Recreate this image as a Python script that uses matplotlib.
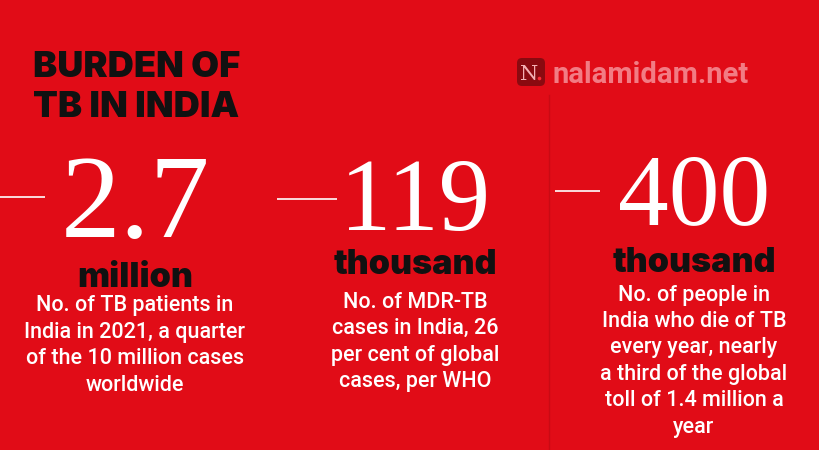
import matplotlib
matplotlib.use("Agg")
import matplotlib.pyplot as plt
from matplotlib.patches import FancyBboxPatch, Circle

# figures shown on the card
numbers = ["2.7", "119", "400"]
units = ["million", "thousand", "thousand"]
descriptions = [
    ["No. of TB patients in", "India in 2021, a quarter", "of the 10 million cases", "worldwide"],
    ["No. of MDR-TB", "cases in India, 26", "per cent of global", "cases, per WHO"],
    ["No. of people in", "India who die of TB", "every year, nearly", "a third of the global",
     "toll of 1.4 million a", "year"],
]
title_lines = ["BURDEN OF", "TB IN INDIA"]
site = "nalamidam.net"

bg = "#E10C17"

fig = plt.figure(figsize=(8.2, 4.5), dpi=100)
fig.patch.set_facecolor(bg)
ax = fig.add_axes([0, 0, 1, 1])
ax.set_facecolor(bg)
ax.set_xlim(0, 820)
ax.set_ylim(450, 0)
ax.axis("off")

heavy = dict(fontfamily="Inter", fontweight=900, color="#111111")

# title
for i, line in enumerate(title_lines):
    ax.text(33, 77 + i * 40, line, fontsize=26, ha="left", va="baseline", **heavy)

# watermark logo
ax.add_patch(FancyBboxPatch((517, 58), 28, 28, boxstyle="round,pad=0,rounding_size=5",
                            facecolor="#8A0A10", edgecolor="none"))
ax.text(529, 80, "N", fontsize=15, fontfamily="DejaVu Serif", color="#F3B0B3",
        ha="center", va="baseline")
ax.add_patch(Circle((539.5, 78.5), 1.8, facecolor="#FF2A35", edgecolor="none"))
ax.text(553, 83, site, fontsize=21, fontfamily="Roboto", fontweight="bold",
        color="#F27C84", ha="left", va="baseline")

# faint column divider
ax.plot([549, 549], [95, 450], color="#C90A14", lw=1)

# columns
centers = [135, 415, 694]
num_sizes = [86, 74, 73]
num_base = [237, 230, 224]
dash_x = [(0, 45), (277, 337), (555, 600)]
dash_y = [197, 199, 191]
unit_base = [287, 274, 272]
desc_y0 = [306, 302, 295]

for c, num, unit, desc, ns, nb, dx, dy, ub, dy0 in zip(
        centers, numbers, units, descriptions, num_sizes, num_base, dash_x, dash_y,
        unit_base, desc_y0):
    ax.plot(dx, [dy, dy], color="white", lw=1.2, solid_capstyle="butt")
    ax.text(c, nb, num, fontsize=ns, fontfamily="Liberation Serif", color="white",
            ha="center", va="baseline")
    ax.text(c, ub, unit, fontsize=24.5, ha="center", va="baseline", **heavy)
    for j, line in enumerate(desc):
        ax.text(c, dy0 + j * 26.5, line, fontsize=15.5, fontfamily="Roboto",
                fontweight="medium", color="white", ha="center", va="center")

fig.savefig("out.png", dpi=100, facecolor=bg)
